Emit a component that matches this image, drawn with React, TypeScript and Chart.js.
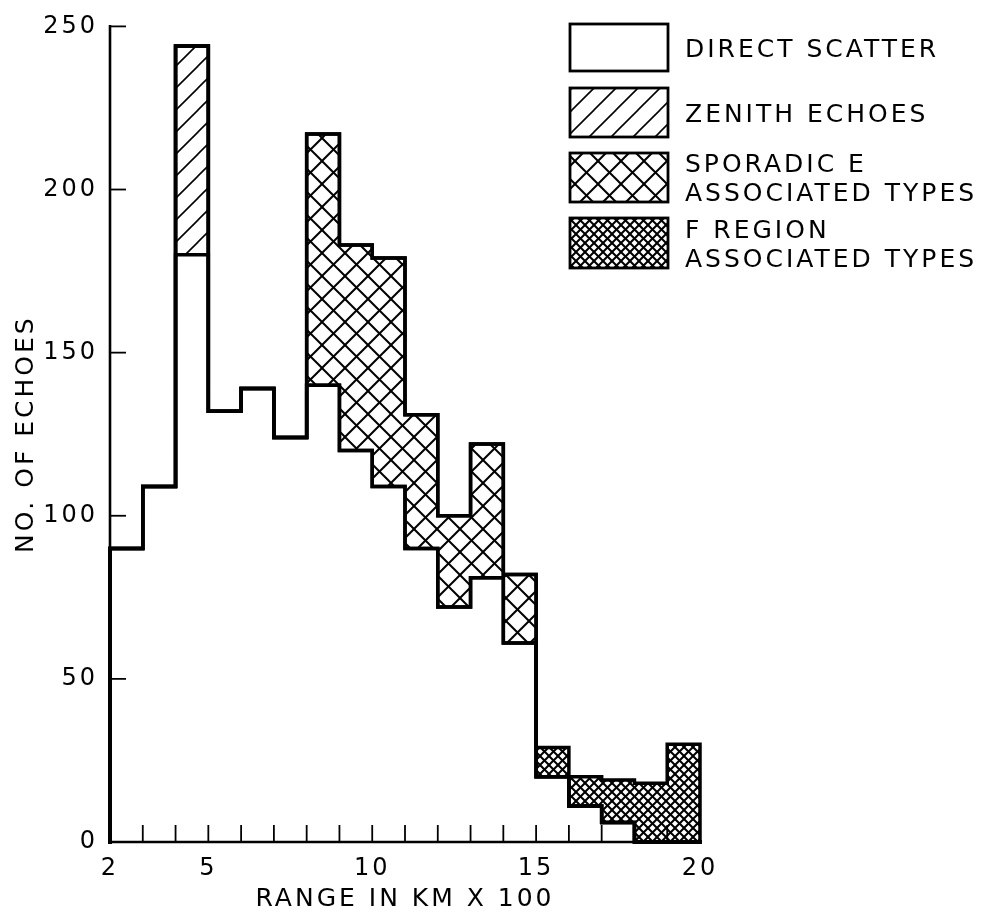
import React, { useEffect, useRef } from 'react';
import { Chart, registerables } from 'chart.js';

Chart.register(...registerables);

// ---- data ----
const binStarts = [2, 3, 4, 5, 6, 7, 8, 9, 10, 11, 12, 13, 14, 15, 16, 17, 18, 19];
const binWidth = 1;
const directScatter = [90, 109, 180, 132, 139, 124, 140, 120, 109, 90, 72, 81, 61, 20, 11, 6, 0, 0];
const zenithEchoes = [0, 0, 64, 0, 0, 0, 0, 0, 0, 0, 0, 0, 0, 0, 0, 0, 0, 0];
const sporadicE = [0, 0, 0, 0, 0, 0, 77, 63, 70, 41, 28, 41, 21, 0, 0, 0, 0, 0];
const fRegion = [0, 0, 0, 0, 0, 0, 0, 0, 0, 0, 0, 0, 0, 9, 9, 13, 18, 30];
const seriesLabels = [
  ['DIRECT SCATTER'],
  ['ZENITH ECHOES'],
  ['SPORADIC E', 'ASSOCIATED TYPES'],
  ['F REGION', 'ASSOCIATED TYPES'],
];
const xTickLabels = [2, 5, 10, 15, 20];
const xMinorTicks = [3, 4, 5, 6, 7, 8, 9, 10, 11, 12, 13, 14, 15, 16, 17, 18, 19];
const yTicks = [0, 50, 100, 150, 200, 250];
const xTitle = 'RANGE IN KM X 100';
const yTitle = 'NO. OF ECHOES';

const FONT = "'DejaVu Sans', sans-serif";

function makePattern(kind: string): CanvasPattern | string {
  if (kind === 'white') return '#fff';
  const c = document.createElement('canvas');
  const s = kind === 'zenith' ? 22 : kind === 'sporadic' ? 23 : 9;
  c.width = s;
  c.height = s;
  const g = c.getContext('2d');
  if (!g) return '#fff';
  g.fillStyle = '#fff';
  g.fillRect(0, 0, s, s);
  g.strokeStyle = '#000';
  const up = () => {
    for (const o of [-s, 0, s]) {
      g.beginPath();
      g.moveTo(o - 2, s + 2);
      g.lineTo(o + s + 2, -2);
      g.stroke();
    }
  };
  const down = () => {
    for (const o of [-s, 0, s]) {
      g.beginPath();
      g.moveTo(o - 2, -2);
      g.lineTo(o + s + 2, s + 2);
      g.stroke();
    }
  };
  if (kind === 'zenith') {
    g.lineWidth = 1.6;
    up();
  } else if (kind === 'sporadic') {
    g.lineWidth = 2;
    up();
    down();
  } else {
    g.lineWidth = 2;
    up();
    down();
  }
  const p = g.createPattern(c, 'repeat');
  return p || '#000';
}

export default function App() {
  const ref = useRef<HTMLCanvasElement | null>(null);

  useEffect(() => {
    const canvas = ref.current;
    if (!canvas) return;
    const fills = [makePattern('white'), makePattern('zenith'), makePattern('sporadic'), makePattern('fregion')];
    const series = [directScatter, zenithEchoes, sporadicE, fRegion];

    // cumulative levels for outlines
    const cumulative: number[][] = [];
    series.forEach((arr, k) => {
      cumulative.push(arr.map((v, i) => v + (k > 0 ? cumulative[k - 1][i] : 0)));
    });
    const xEnd = binStarts[binStarts.length - 1] + binWidth;

    const barSets = series.map((arr, k) => ({
      type: 'bar' as const,
      label: seriesLabels[k].join(' '),
      data: binStarts.map((s, i) => ({ x: s + binWidth / 2, y: arr[i] })),
      backgroundColor: fills[k],
      borderWidth: 0,
      stack: 'h',
      barPercentage: 1,
      categoryPercentage: 1,
      order: 1,
    }));

    const lineSets = cumulative.map((cum, k) => ({
      type: 'line' as const,
      label: 'outline' + k,
      data: [
        { x: binStarts[0], y: 0 },
        ...binStarts.map((s, i) => ({ x: s, y: cum[i] })),
        { x: xEnd, y: cum[cum.length - 1] },
        { x: xEnd, y: 0 },
      ],
      borderColor: '#000',
      borderWidth: 3.5,
      borderJoinStyle: 'miter' as const,
      borderCapStyle: 'square' as const,
      pointRadius: 0,
      fill: false,
      stepped: true,
      tension: 0,
      clip: false as any,
      order: 0,
    }));

    const spacingPlugin = {
      id: 'spacing',
      beforeDraw(chart: any) {
        (chart.ctx as any).letterSpacing = '3px';
      },
    };

    const axesPlugin = {
      id: 'axesDraw',
      afterDatasetsDraw(chart: any) {
        const ctx = chart.ctx;
        const xs = chart.scales.x;
        const ys = chart.scales.y;
        const x0 = xs.getPixelForValue(binStarts[0]);
        const x1 = xs.getPixelForValue(xEnd);
        const y0 = ys.getPixelForValue(0);
        const yTop = ys.getPixelForValue(yTicks[yTicks.length - 1]);
        ctx.save();
        ctx.strokeStyle = '#000';
        ctx.lineCap = 'square';
        ctx.lineWidth = 2.6;
        ctx.beginPath();
        ctx.moveTo(x0, yTop);
        ctx.lineTo(x0, y0);
        ctx.lineTo(x1, y0);
        ctx.stroke();
        ctx.lineWidth = 1.8;
        ctx.lineCap = 'butt';
        for (const t of yTicks) {
          if (t === 0) continue;
          const y = ys.getPixelForValue(t);
          ctx.beginPath();
          ctx.moveTo(x0, y);
          ctx.lineTo(x0 + 16, y);
          ctx.stroke();
        }
        for (const t of xMinorTicks) {
          const x = xs.getPixelForValue(t);
          ctx.beginPath();
          ctx.moveTo(x, y0);
          ctx.lineTo(x, y0 - 17);
          ctx.stroke();
        }
        ctx.restore();
      },
    };

    const legendPlugin = {
      id: 'legendBoxes',
      afterDraw(chart: any) {
        const ctx = chart.ctx;
        const boxes = [
          { y: 24, h: 47 },
          { y: 88, h: 49 },
          { y: 153, h: 49 },
          { y: 218, h: 50 },
        ];
        ctx.save();
        (ctx as any).letterSpacing = '3px';
        ctx.font = `25px ${FONT}`;
        ctx.textAlign = 'left';
        ctx.textBaseline = 'alphabetic';
        boxes.forEach((b, k) => {
          ctx.fillStyle = fills[k];
          ctx.fillRect(570, b.y, 98, b.h);
          ctx.strokeStyle = '#000';
          ctx.lineWidth = 2.8;
          ctx.strokeRect(570, b.y, 98, b.h);
          ctx.fillStyle = '#000';
          const lines = seriesLabels[k];
          const cy = b.y + b.h / 2;
          lines.forEach((ln, j) => {
            const off = lines.length === 1 ? 0 : (j === 0 ? -14.5 : 14.5);
            ctx.fillText(ln, 685, cy + off + 9);
          });
        });
        ctx.restore();
      },
    };

    const chart = new Chart(canvas, {
      type: 'bar',
      data: { datasets: [...lineSets, ...barSets] as any },
      options: {
        animation: false,
        responsive: false,
        layout: { padding: { left: 0, top: 24, right: 299, bottom: 0 } },
        plugins: { legend: { display: false }, tooltip: { enabled: false } },
        scales: {
          x: {
            type: 'linear',
            min: binStarts[0],
            max: xEnd,
            offset: false,
            grid: { display: false, drawTicks: false },
            border: { display: false },
            afterFit: (s: any) => {
              s.height = 75;
            },
            afterBuildTicks: (s: any) => {
              s.ticks = xTickLabels.map((v) => ({ value: v }));
            },
            ticks: {
              color: '#000',
              font: { family: FONT, size: 24 },
              padding: 12,
              maxRotation: 0,
              autoSkip: false,
              callback: (v: any) => String(v),
            },
            title: {
              display: true,
              text: xTitle,
              color: '#000',
              font: { family: FONT, size: 25 },
              padding: { top: 0, bottom: 3 },
            },
          },
          y: {
            type: 'linear',
            min: yTicks[0],
            max: yTicks[yTicks.length - 1],
            grid: { display: false, drawTicks: false },
            border: { display: false },
            afterFit: (s: any) => {
              s.width = 110;
            },
            afterBuildTicks: (s: any) => {
              s.ticks = yTicks.map((v) => ({ value: v }));
            },
            ticks: {
              color: '#000',
              font: { family: FONT, size: 24 },
              padding: 12,
              callback: (v: any) => String(v),
            },
            title: {
              display: true,
              text: yTitle,
              color: '#000',
              font: { family: FONT, size: 25 },
              padding: { top: 11, bottom: 0 },
            },
          },
        },
      } as any,
      plugins: [spacingPlugin, axesPlugin, legendPlugin],
    });
    return () => chart.destroy();
  }, []);

  return (
    <canvas
      ref={ref}
      width={999}
      height={917}
      style={{ position: 'absolute', left: 0, top: 0, width: 999, height: 917, background: '#fff' }}
    />
  );
}
